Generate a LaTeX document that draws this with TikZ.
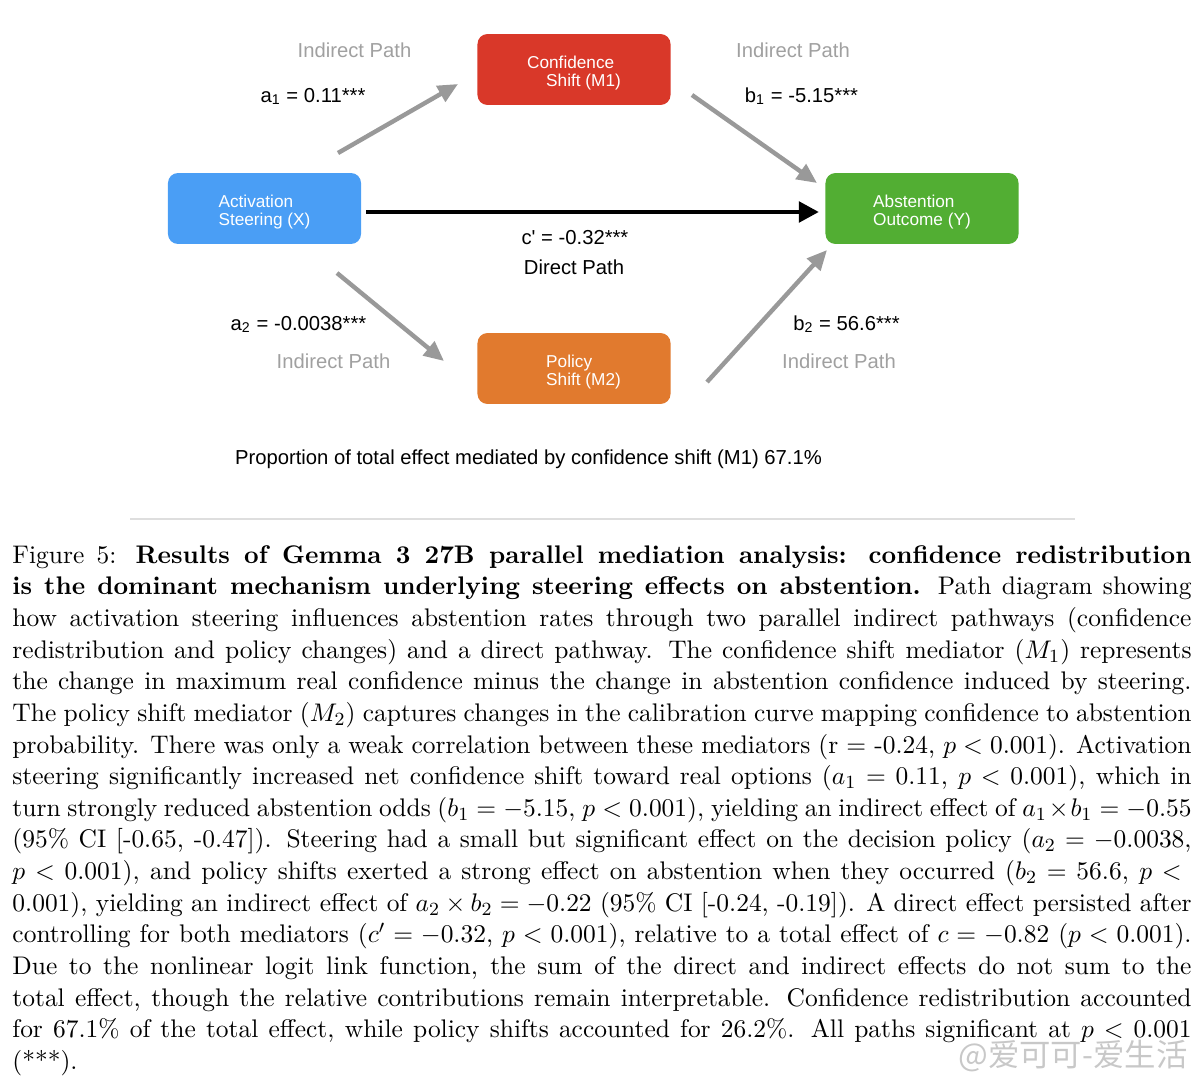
\documentclass[tikz,border=0pt]{standalone}
\usepackage{amsmath}
\usepackage{fontspec}
\newfontfamily\diagfont{Liberation Sans}
\newfontfamily\cjkfont{Noto Sans CJK SC}
\usetikzlibrary{arrows.meta,positioning}
\definecolor{xblue}{HTML}{4A9EF5}
\definecolor{mred}{HTML}{D93829}
\definecolor{ygreen}{HTML}{52AE33}
\definecolor{morange}{HTML}{E17A2E}
\definecolor{arrgray}{HTML}{999999}
\definecolor{pathgray}{HTML}{A0A0A0}
\definecolor{rulegray}{HTML}{DEDEDE}
\definecolor{wmgray}{HTML}{C8C8C8}
\newcommand{\boxstrut}{\rule{0pt}{8pt}}

\begin{document}
\begin{tikzpicture}[x=0.43pt,y=-0.43pt,
  var/.style={rounded corners=4.3pt,minimum width=83pt,minimum height=30.5pt,inner sep=0pt,
    text=white,align=left,font=\diagfont\fontsize{7.4}{7.75}\selectfont},
  coef/.style={anchor=base,inner sep=0pt,font=\diagfont\fontsize{8.7}{10}\selectfont},
  pathname/.style={coef,text=pathgray},
  indirect/.style={draw=arrgray,line width=1.9pt,-{Triangle[length=8.6pt,width=7.6pt]}},
  direct/.style={draw=black,line width=2.1pt,-{Triangle[length=8.6pt,width=8.6pt]}}]
\useasboundingbox (0,0) rectangle (1203,1080);
\node[var,fill=xblue] (X) at (264.5,208.5) {\boxstrut Activation\\Steering (X)};
\node[var,fill=mred] (M1) at (574,69.5) {\boxstrut Confidence\\\hspace*{8.2pt}Shift (M1)};
\node[var,fill=ygreen] (Y) at (922,208.5) {\boxstrut Abstention\\Outcome (Y)};
\node[var,fill=morange] (M2) at (574,368.5) {\boxstrut\hspace*{8.2pt}Policy\\\hspace*{8.2pt}Shift (M2)};
\coordinate (a1s) at (338,153); \coordinate (a1e) at (458,84);
\coordinate (b1s) at (692,95);  \coordinate (b1e) at (817,183);
\coordinate (a2s) at (337,273); \coordinate (a2e) at (444,361);
\coordinate (b2s) at (707,382); \coordinate (b2e) at (827,250);
\draw[indirect] (a1s) -- (a1e);
\draw[indirect] (b1s) -- (b1e);
\draw[indirect] (a2s) -- (a2e);
\draw[indirect] (b2s) -- (b2e);
\draw[direct,shorten <=2.1pt,shorten >=2.6pt] ([yshift=-1.5pt]X.east) -- ([yshift=-1.5pt]Y.west);
\node[pathname] (p1) at (354.5,57) {Indirect Path};
\node[coef] (ca1) at (313,102) {a\textsubscript{1} = 0.11***};
\node[pathname] (p2) at (793,57) {Indirect Path};
\node[coef] (cb1) at (801.5,102) {b\textsubscript{1} = -5.15***};
\node[coef] (cc) at (575,244) {c' = -0.32***};
\node[coef] (dp) at (574,274) {Direct Path};
\node[coef] (ca2) at (298.5,330) {a\textsubscript{2} = -0.0038***};
\node[pathname] (p3) at (333.5,368) {Indirect Path};
\node[coef] (cb2) at (846.5,330) {b\textsubscript{2} = 56.6***};
\node[pathname] (p4) at (839,368) {Indirect Path};
\node[coef] (prop) at (528.5,464) {Proportion of total effect mediated by confidence shift (M1) 67.1\%};
\draw[rulegray,line width=0.5pt] (130,519) -- (1075,519);
\node[anchor=north west,inner sep=0pt,text width=507pt,align=justify,
  font=\fontsize{10.95}{13.6}\selectfont] (cap) at (12,545) {Figure 5: \textbf{Results of Gemma 3 27B parallel mediation analysis: confidence redistribution\linebreak
is the dominant mechanism underlying steering effects on abstention.} Path diagram showing\linebreak
how activation steering influences abstention rates through two parallel indirect pathways (confidence\linebreak
redistribution and policy changes) and a direct pathway. The confidence shift mediator ($M_1$) represents\linebreak
the change in maximum real confidence minus the change in abstention confidence induced by steering.\linebreak
The policy shift mediator ($M_2$) captures changes in the calibration curve mapping confidence to abstention\linebreak
probability. There was only a weak correlation between these mediators (r = -0.24, $p<0.001$). Activation\linebreak
steering significantly increased net confidence shift toward real options ($a_1=0.11$, $p<0.001$), which in\linebreak
turn strongly reduced abstention odds ($b_1=-5.15$, $p<0.001$), yielding an indirect effect of $a_1\times b_1=-0.55$\linebreak
(95\% CI [-0.65, -0.47]). Steering had a small but significant effect on the decision policy ($a_2=-0.0038$,\linebreak
$p<0.001$), and policy shifts exerted a strong effect on abstention when they occurred ($b_2=56.6$, $p<{}$\linebreak
$0.001$), yielding an indirect effect of $a_2\times b_2=-0.22$ (95\% CI [-0.24, -0.19]). A direct effect persisted after\linebreak
controlling for both mediators ($c'=-0.32$, $p<0.001$), relative to a total effect of $c=-0.82$ ($p<0.001$).\linebreak
Due to the nonlinear logit link function, the sum of the direct and indirect effects do not sum to the\linebreak
total effect, though the relative contributions remain interpretable. Confidence redistribution accounted\linebreak
for 67.1\% of the total effect, while policy shifts accounted for 26.2\%. All paths significant at $p<0.001$\linebreak
(***).};
\node[anchor=base west,inner sep=0pt,text=wmgray,font=\cjkfont\fontsize{13.5}{14}\selectfont] (wm) at (958,1066) {@爱可可-爱生活};
\end{tikzpicture}
\end{document}
